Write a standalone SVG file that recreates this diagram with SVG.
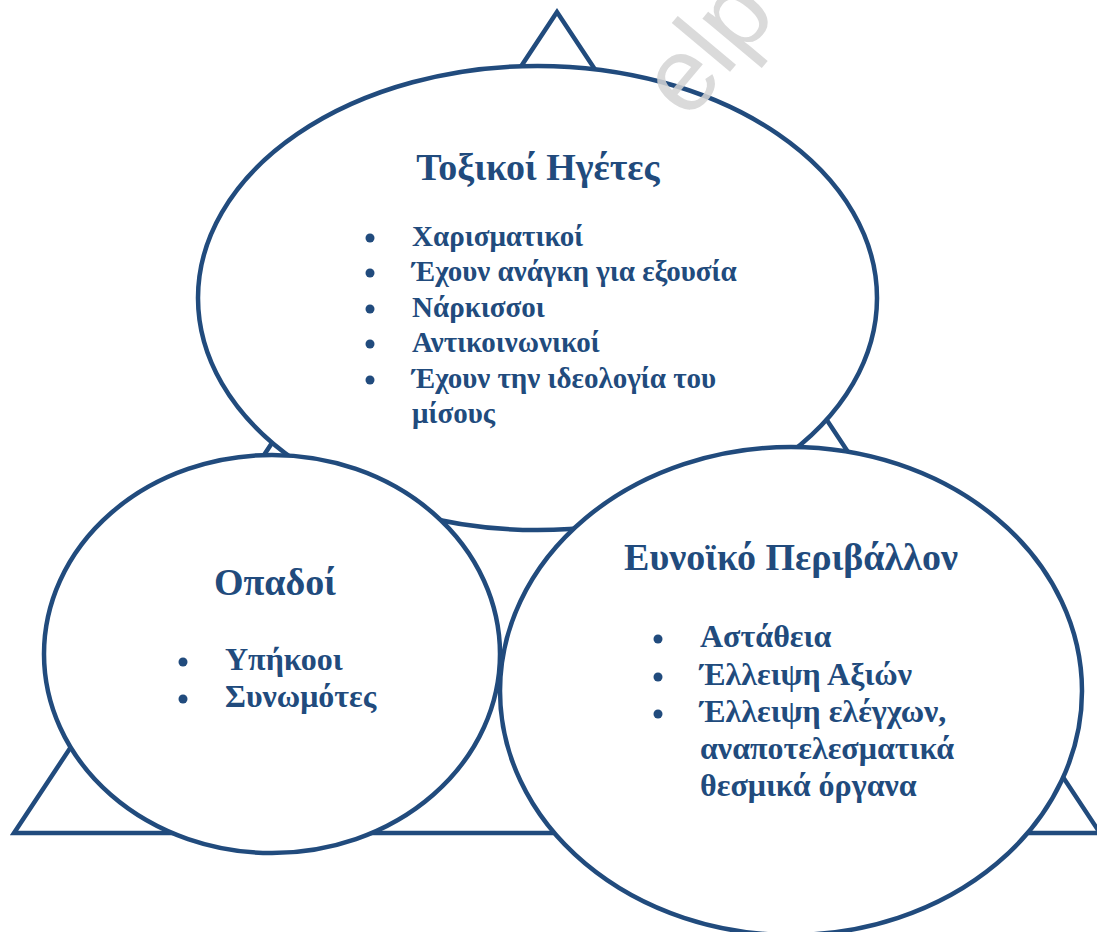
<svg xmlns="http://www.w3.org/2000/svg" width="1097" height="932" viewBox="0 0 1097 932">
  <style>
    .shape { fill: #ffffff; stroke: #214B7D; stroke-width: 4.5; }
    .tri { fill: none; stroke: #214B7D; stroke-width: 4.5; stroke-linejoin: miter; }
    .title { font-family: "Liberation Serif", "Times New Roman", serif; font-weight: bold; font-size: 38px; fill: #214B7D; }
    .item { font-family: "Liberation Serif", "Times New Roman", serif; font-weight: bold; font-size: 29px; fill: #214B7D; }
    .item2 { font-family: "Liberation Serif", "Times New Roman", serif; font-weight: bold; font-size: 32px; fill: #214B7D; }
    .dot { fill: #214B7D; }
    .wm { font-family: "Liberation Sans", Arial, sans-serif; font-size: 105px; fill: #d4d4d4; opacity: 0.85; }
  </style>
  <rect width="1097" height="932" fill="#ffffff"/>
  <g id="connectors">
    <polygon class="tri" points="557,12 14,833 1100,833"/>
  </g>
  <g id="node-toxic-leaders">
    <ellipse class="shape" cx="537.5" cy="298" rx="339.5" ry="232"/>
    <text class="title" x="538" y="180" text-anchor="middle">Τοξικοί Ηγέτες</text>
    <circle class="dot" cx="370" cy="238" r="4.5"/>
    <text class="item" x="412" y="246">Χαρισματικοί</text>
    <circle class="dot" cx="370" cy="273" r="4.5"/>
    <text class="item" x="412" y="281">Έχουν ανάγκη για εξουσία</text>
    <circle class="dot" cx="370" cy="309" r="4.5"/>
    <text class="item" x="412" y="317">Νάρκισσοι</text>
    <circle class="dot" cx="370" cy="344" r="4.5"/>
    <text class="item" x="412" y="352">Αντικοινωνικοί</text>
    <circle class="dot" cx="370" cy="380" r="4.5"/>
    <text class="item" x="412" y="388">Έχουν την ιδεολογία του</text>
    <text class="item" x="412" y="423">μίσους</text>
  </g>
  <g id="node-followers">
    <ellipse class="shape" cx="272" cy="654" rx="228" ry="199"/>
    <text class="title" x="275" y="595" text-anchor="middle">Οπαδοί</text>
    <circle class="dot" cx="183" cy="662" r="4.5"/>
    <text class="item2" x="225" y="670">Υπήκοοι</text>
    <circle class="dot" cx="183" cy="699" r="4.5"/>
    <text class="item2" x="225" y="707">Συνωμότες</text>
  </g>
  <g id="node-environment">
    <ellipse class="shape" cx="791" cy="691" rx="291" ry="244"/>
    <text class="title" x="791" y="570" text-anchor="middle">Ευνοϊκό Περιβάλλον</text>
    <circle class="dot" cx="658" cy="639" r="4.5"/>
    <text class="item2" x="700" y="647">Αστάθεια</text>
    <circle class="dot" cx="658" cy="677" r="4.5"/>
    <text class="item2" x="700" y="685">Έλλειψη Αξιών</text>
    <circle class="dot" cx="658" cy="714" r="4.5"/>
    <text class="item2" x="700" y="722">Έλλειψη ελέγχων,</text>
    <text class="item2" x="700" y="759">αναποτελεσματικά</text>
    <text class="item2" x="700" y="796">θεσμικά όργανα</text>
  </g>
  <g id="watermark">
    <text class="wm" x="688" y="122" transform="rotate(-50 688 122)">elp</text>
  </g>
</svg>
